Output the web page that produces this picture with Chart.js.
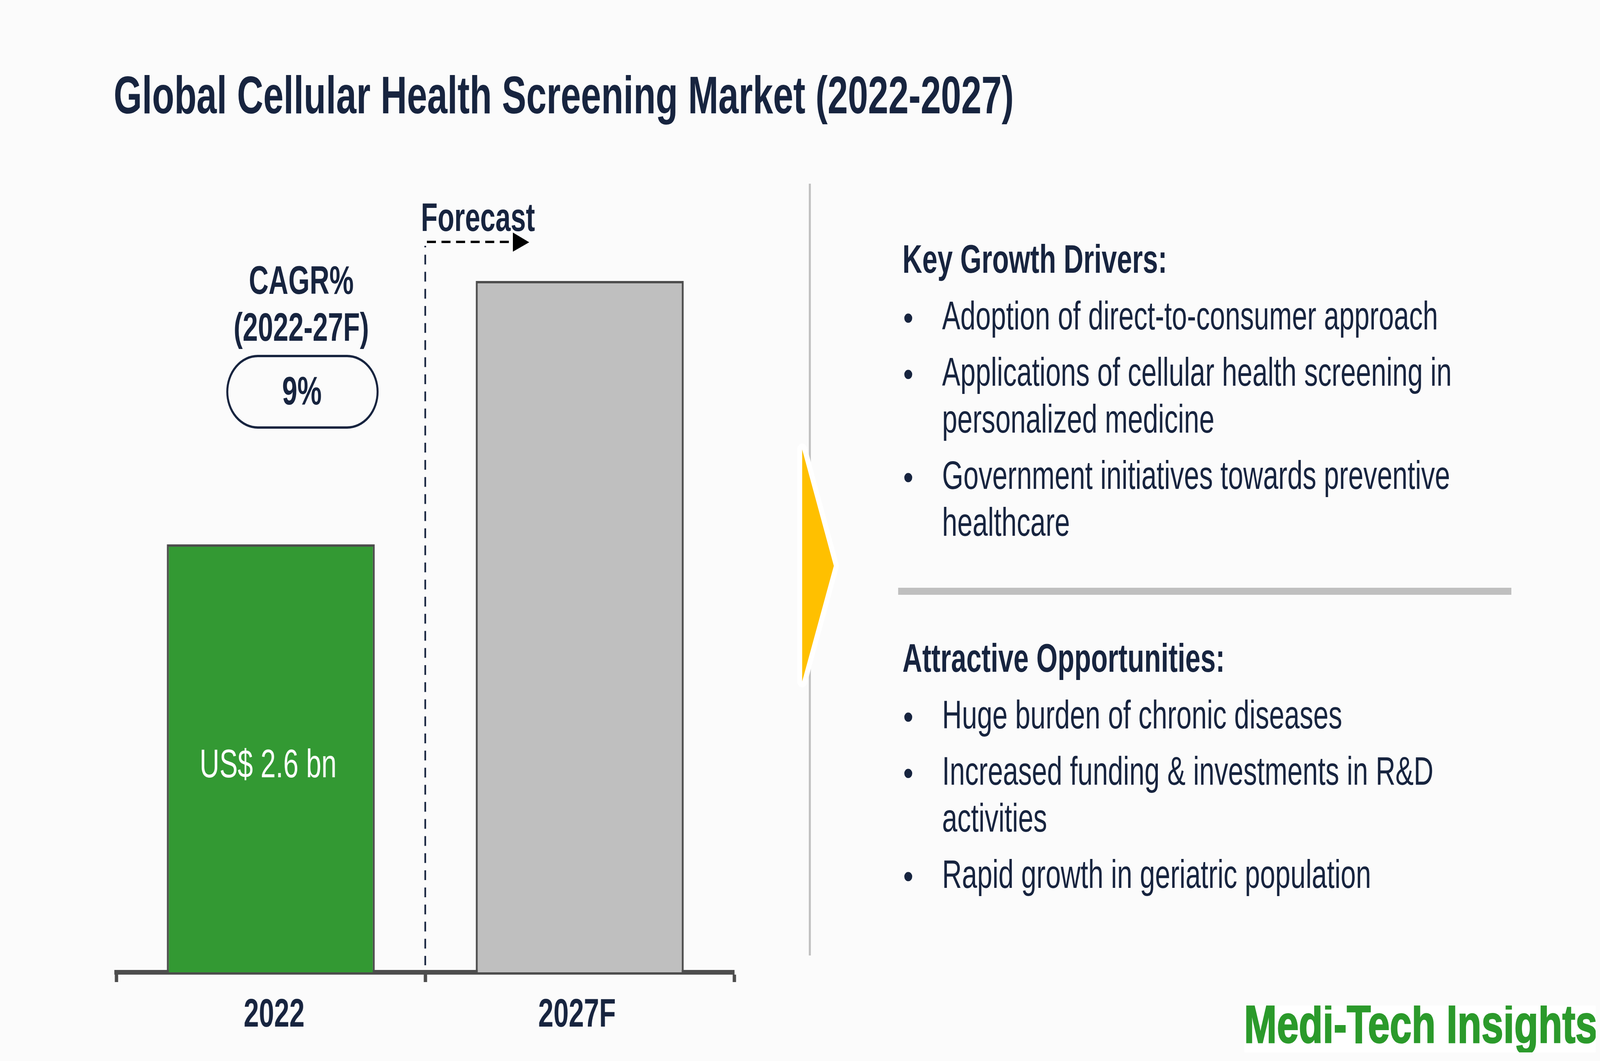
<!DOCTYPE html>
<html>
<head>
<meta charset="utf-8">
<title>Global Cellular Health Screening Market (2022-2027)</title>
<script src="https://cdn.jsdelivr.net/npm/chart.js@4"></script>
<style>
  html, body { margin: 0; padding: 0; background: #fbfbfb; overflow: hidden; }
  #page { position: relative; width: 4801px; height: 2715px; overflow: hidden; background: #fbfbfb; transform-origin: 0 0; }
  #marketChart { position: absolute; left: 0; top: 0; }
  .t {
    position: absolute; white-space: nowrap; line-height: 1; color: #17243f;
    font-family: "Liberation Sans", sans-serif; font-size: 102px;
    transform: scaleX(0.805); transform-origin: 0 50%;
  }
  .title { font-size: 135px; font-weight: bold; left: 341px; top: 176px; transform: scaleX(0.809); }
  .small { font-weight: bold; }
  .center { transform: translateX(-50%) scaleX(0.805); transform-origin: 50% 50%; }
  .head { font-weight: bold; left: 2708px; }
  .item { left: 2827px; }
  .dot { font-size: 88px; left: 2710px; margin-top: 12px; transform: none; }
  #pill { position: absolute; left: 679px; top: 908px; width: 445px; height: 177px; border: 6px solid #17243f; border-radius: 95px; background: #fbfbfb; }
  #logo {
    position: absolute; left: 3733px; top: 2573px; width: 1055px; height: 120px; overflow: hidden; background: #fff;
  }
  #logo span {
    position: absolute; left: 0; top: -22px; font: bold 138px/1 "Liberation Sans", sans-serif;
    color: #2b9a2b; -webkit-text-stroke: 3px #2b9a2b; filter: blur(0.7px);
    white-space: nowrap; transform: scaleX(0.855); transform-origin: 0 50%;
  }
  svg { position: absolute; left: 0; top: 0; }
</style>
</head>
<body>
<div id="page">
  <svg width="4801" height="2715">
    <line x1="2430" y1="470" x2="2430" y2="2445" stroke="#bfbfbf" stroke-width="6"/>
    <line x1="2695" y1="1513" x2="4535" y2="1513" stroke="#bfbfbf" stroke-width="18"/>
    <polygon points="2407,1150 2502,1448 2407,1744" fill="#ffc000" stroke="#ffffff" stroke-width="30" stroke-linejoin="round"/>
    <polygon points="2407,1150 2502,1448 2407,1744" fill="#ffc000"/>
  </svg>
  <canvas id="marketChart" width="4801" height="2715"></canvas>
  <svg width="4801" height="2715">
    <line x1="1276" y1="629" x2="1276" y2="2470" stroke="#17243f" stroke-width="5" stroke-dasharray="25 18.76" stroke-dashoffset="21"/>
    <line x1="1281" y1="619" x2="1527" y2="619" stroke="#000" stroke-width="6" stroke-dasharray="27 16.76"/>
    <polygon points="1539,595 1588,620 1539,644" fill="#000"/>
  </svg>

  <div class="t title">Global Cellular Health Screening Market (2022-2027)</div>

  <div class="t small" style="left:1263px;top:505px">Forecast</div>
  <div class="t small center" style="left:904px;top:666px">CAGR%</div>
  <div class="t small center" style="left:904px;top:786px">(2022-27F)</div>
  <div id="pill"></div>
  <div class="t small center" style="left:906px;top:949px">9%</div>

  <div class="t head" style="top:612px">Key Growth Drivers:</div>
  <div class="t dot" style="top:757px">•</div>
  <div class="t item" style="top:757px">Adoption of direct-to-consumer approach</div>
  <div class="t dot" style="top:901px">•</div>
  <div class="t item" style="top:901px">Applications of cellular health screening in</div>
  <div class="t item" style="top:1021px">personalized medicine</div>
  <div class="t dot" style="top:1165px">•</div>
  <div class="t item" style="top:1165px">Government initiatives towards preventive</div>
  <div class="t item" style="top:1285px">healthcare</div>

  <div class="t head" style="top:1633px">Attractive Opportunities:</div>
  <div class="t dot" style="top:1778px">•</div>
  <div class="t item" style="top:1778px">Huge burden of chronic diseases</div>
  <div class="t dot" style="top:1922px">•</div>
  <div class="t item" style="top:1922px">Increased funding &amp; investments in R&amp;D</div>
  <div class="t item" style="top:2042px">activities</div>
  <div class="t dot" style="top:2186px">•</div>
  <div class="t item" style="top:2186px">Rapid growth in geriatric population</div>

  <div id="logo"><span>Medi-Tech Insights</span></div>
</div>

<script>
const categories = ["2022", "2027F"];
const marketSize = [2.6, 4.2];
const barLabels = ["US$ 2.6 bn", ""];
const barColors = ["#339933", "#bfbfbf"];

const inkColor = "#17243f";
const axisColor = "#4d4d4d";
const squeeze = 0.805;
const tickNudge = [10, -8];

// the window can be narrower than the 4801 wide sheet, so fit the sheet to it
document.getElementById("page").style.transform =
  "scale(" + window.innerWidth / 4801 + "," + window.innerHeight / 2715 + ")";

// tick labels and the value label need squeezing, which the library's ticks can't do
const textPlugin = {
  id: "squeezedText",
  afterDatasetsDraw(chart) {
    const ctx = chart.ctx;
    const xScale = chart.scales.x;
    const bars = chart.getDatasetMeta(0).data;
    ctx.save();
    ctx.textAlign = "center";
    ctx.textBaseline = "alphabetic";

    ctx.fillStyle = inkColor;
    ctx.font = 'bold 102px "Liberation Sans", sans-serif';
    xScale.ticks.forEach((tick, i) => {
      ctx.save();
      ctx.translate(xScale.getPixelForTick(i) + tickNudge[i], 2627);
      ctx.scale(squeeze, 1);
      ctx.fillText(tick.label, 0, 0);
      ctx.restore();
    });

    ctx.fillStyle = "#ffffff";
    ctx.font = '102px "Liberation Sans", sans-serif';
    bars.forEach((bar, i) => {
      if (!barLabels[i]) return;
      ctx.save();
      ctx.translate(bar.x - 8, 1989);
      ctx.scale(squeeze, 1);
      ctx.fillText(barLabels[i], 0, 0);
      ctx.restore();
    });
    ctx.restore();
  },
};

new Chart(document.getElementById("marketChart"), {
  type: "bar",
  data: {
    labels: categories,
    datasets: [
      {
        data: marketSize,
        backgroundColor: barColors,
        borderColor: axisColor,
        borderWidth: 6,
        barPercentage: 0.673,
        categoryPercentage: 1,
      },
    ],
  },
  options: {
    responsive: false,
    animation: false,
    devicePixelRatio: 1,
    layout: { padding: { left: 349, right: 2598, top: 382, bottom: 0 } },
    plugins: { legend: { display: false }, tooltip: { enabled: false } },
    scales: {
      x: {
        afterFit(scale) {
          scale.height = 227;
        },
        border: { display: true, color: axisColor, width: 12 },
        grid: {
          offset: true,
          drawOnChartArea: false,
          drawTicks: true,
          tickLength: 25,
          tickWidth: 10,
          tickColor: axisColor,
        },
        ticks: { display: false },
      },
      y: { display: false, min: 0, max: 5 },
    },
  },
  plugins: [textPlugin],
});
</script>
</body>
</html>
